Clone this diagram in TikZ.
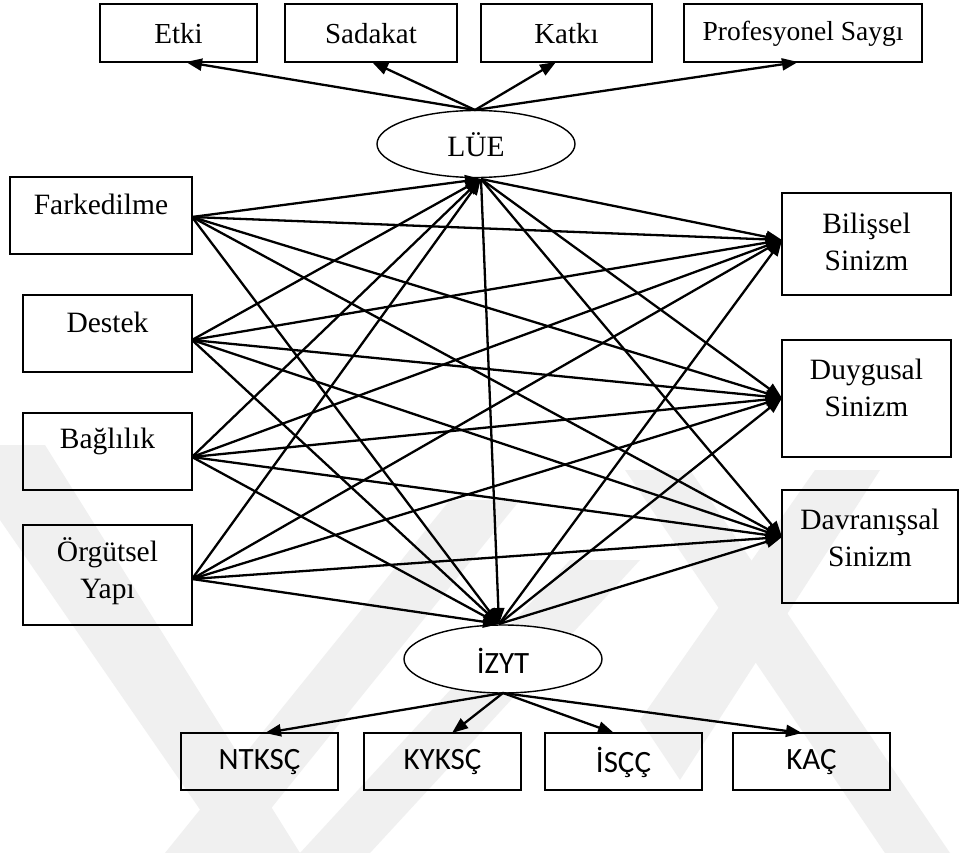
\documentclass[tikz,border=0pt]{standalone}
\usepackage{fontspec}
\setmainfont{Liberation Serif}
\newfontfamily\calibfont{Carlito}
\usetikzlibrary{arrows.meta,shapes.geometric}

\begin{document}
\begin{tikzpicture}[x=1pt,y=-1pt,
  box/.style={draw,line width=1.4pt,inner sep=0pt},
  oval/.style={draw,ellipse,line width=1.4pt,inner sep=0pt},
  lbl/.style={inner sep=0pt,align=center,font=\fontsize{29.5}{37}\selectfont},
  slbl/.style={inner sep=0pt,align=center,font=\calibfont\fontsize{31}{37}\selectfont},
  arr/.style={-{Triangle[length=16pt,width=12pt]},line width=2.3pt},
  emblem/.style={fill=black!6,draw=none},
]
\useasboundingbox (0,0) rectangle (959,853);
\fill[white] (0,0) rectangle (959,853);

% ---- faint background emblem ----
\fill[emblem] (0,445) -- (45,445) -- (300,853) -- (230,853) -- (0,520) -- cycle;
\fill[emblem] (165,853) -- (235,853) -- (520,500) -- (450,500) -- cycle;
\fill[emblem] (300,853) -- (370,853) -- (640,560) -- (570,560) -- cycle;
\fill[emblem] (625,470) -- (690,470) -- (950,853) -- (885,853) -- cycle;
\fill[emblem] (640,720) -- (680,780) -- (880,470) -- (815,470) -- cycle;

% ---- top indicator boxes ----
\node[box,minimum width=157pt,minimum height=58pt] (etki) at (178.5,33) {};
\node[lbl,font=\fontsize{29}{35}\selectfont] (etkit) at (178.5,34) {Etki};
\node[box,minimum width=172pt,minimum height=58pt] (sad) at (371,33) {};
\node[lbl,font=\fontsize{29}{35}\selectfont] (sadt) at (371,34) {Sadakat};
\node[box,minimum width=171pt,minimum height=58pt] (kat) at (566.5,33) {};
\node[lbl,font=\fontsize{29}{35}\selectfont] (katt) at (566.5,34) {Katkı};
\node[box,minimum width=238pt,minimum height=58pt] (prof) at (803,33) {};
\node[lbl,font=\fontsize{27.5}{33}\selectfont] (proft) at (803,34) {Profesyonel Saygı};

% ---- LÜE ----
\node[oval,fill=white,minimum width=198pt,minimum height=67pt] (lue) at (476,144) {};
\node[lbl] (luet) at (476,145) {LÜE};

% ---- left boxes ----
\node[box,minimum width=182pt,minimum height=77pt] (fark) at (101,215.5) {};
\node[lbl] (farkt) at (101,204) {Farkedilme};
\node[box,minimum width=169pt,minimum height=77pt] (dest) at (107.5,333.5) {};
\node[lbl] (destt) at (107.5,322) {Destek};
\node[box,minimum width=169pt,minimum height=77pt] (bag) at (107.5,451.5) {};
\node[lbl] (bagt) at (107.5,441) {Bağlılık};
\node[box,minimum width=169pt,minimum height=100pt] (org) at (107.5,575) {};
\node[lbl] (orgt) at (107.5,571) {Örgütsel\\Yapı};

% ---- right boxes ----
\node[box,minimum width=169pt,minimum height=102pt] (bil) at (866.5,244) {};
\node[lbl] (bilt) at (866.5,242) {Bilişsel\\Sinizm};
\node[box,minimum width=169pt,minimum height=117pt] (duy) at (866.5,398.5) {};
\node[lbl] (duyt) at (866.5,388) {Duygusal\\Sinizm};
\node[box,minimum width=176pt,minimum height=113pt] (dav) at (870,546.5) {};
\node[lbl] (davt) at (870,538) {Davranışsal\\Sinizm};

% ---- İZYT ----
\node[oval,fill=white,minimum width=198pt,minimum height=68pt] (izyt) at (503,659) {};
\node[slbl] (izytt) at (503,661) {İZYT};

% ---- bottom boxes ----
\node[box,minimum width=157pt,minimum height=57pt] (ntk) at (259.5,761.5) {};
\node[slbl] (ntkt) at (259.5,762) {NTKSÇ};
\node[box,minimum width=157pt,minimum height=57pt] (kyk) at (442.5,761.5) {};
\node[slbl] (kykt) at (442.5,762) {KYKSÇ};
\node[box,minimum width=157pt,minimum height=57pt] (isc) at (623.5,761.5) {};
\node[slbl] (isct) at (623.5,762) {İSÇÇ};
\node[box,minimum width=157pt,minimum height=57pt] (kac) at (811.5,761.5) {};
\node[slbl] (kact) at (811.5,762) {KAÇ};

% ---- connector end points ----
\coordinate (lueT) at (475,110);
\coordinate (lueB) at (481,179);
\coordinate (izT) at (499,624);
\coordinate (izB) at (503,693);
\coordinate (farkR) at (192,217);
\coordinate (destR) at (192,340);
\coordinate (bagR) at (192,457);
\coordinate (orgR) at (192,579);
\coordinate (bilL) at (782,240);
\coordinate (duyL) at (782,398);
\coordinate (davL) at (782,537);
\coordinate (etkiB) at (186,62);
\coordinate (sadB) at (372,62);
\coordinate (katB) at (556,62);
\coordinate (profB) at (798,62);
\coordinate (ntkT) at (265,733);
\coordinate (kykT) at (452,733);
\coordinate (iscT) at (614,733);
\coordinate (kacT) at (802,733);

% ---- LÜE indicators ----
\foreach \t in {etkiB,sadB,katB,profB} \draw[arr] (lueT) -- (\t);
% ---- İZYT indicators ----
\foreach \t in {ntkT,kykT,iscT,kacT} \draw[arr] (izB) -- (\t);

% ---- predictors to mediators and outcomes ----
\foreach \s in {farkR,destR,bagR,orgR}
  \foreach \t in {lueB,izT,bilL,duyL,davL}
    \draw[arr] (\s) -- (\t);

% ---- mediators to outcomes ----
\foreach \t in {bilL,duyL,davL} {
  \draw[arr] (lueB) -- (\t);
  \draw[arr] (izT) -- (\t);
}
\draw[arr] (lueB) -- (izT);
\end{tikzpicture}
\end{document}
